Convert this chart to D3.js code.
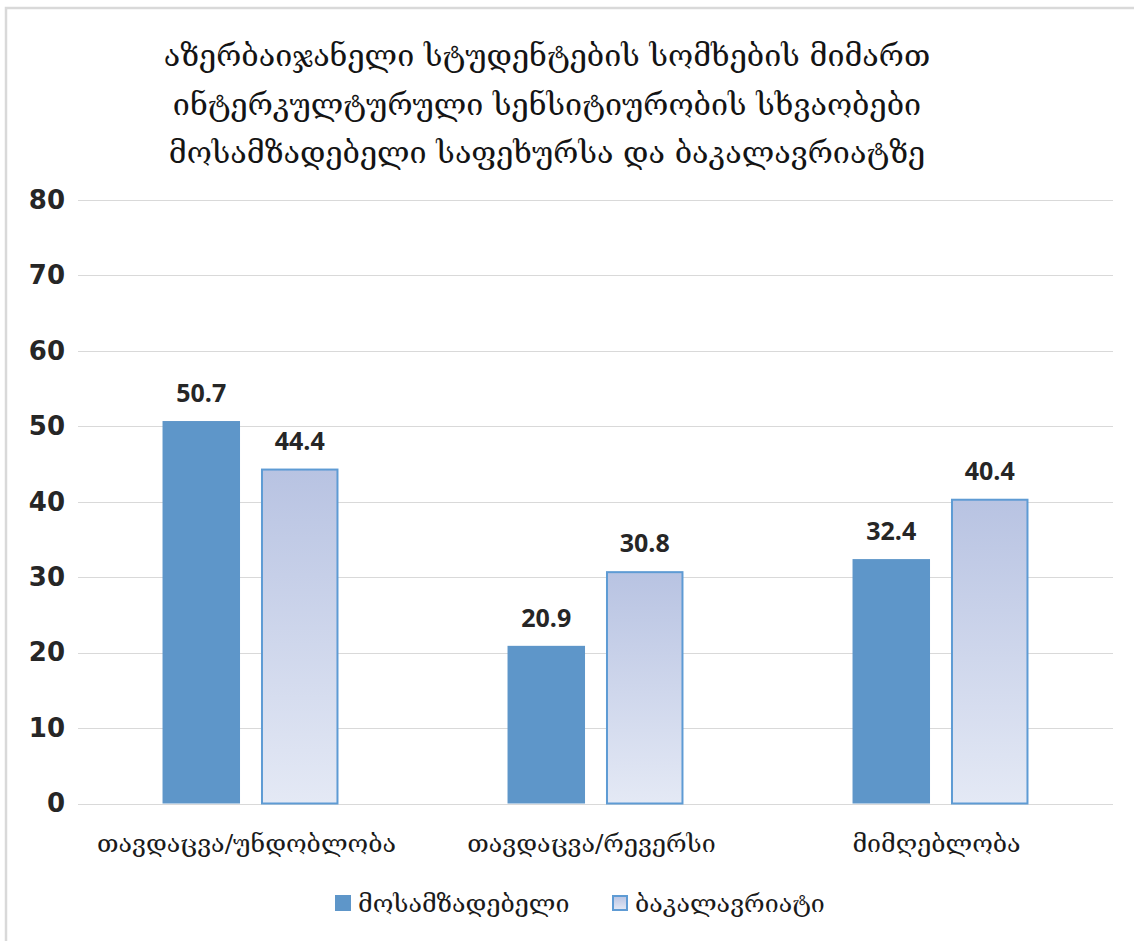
<!DOCTYPE html>
<html>
<head>
<meta charset="utf-8">
<script src="https://cdn.jsdelivr.net/npm/d3@7"></script>
<style>
  html, body { margin: 0; padding: 0; background: #fff; }
  svg { display: block; }
</style>
</head>
<body>
<svg id="chart" width="1134" height="941"></svg>
<script>
const titleLines = [
  "აზერბაიჯანელი სტუდენტების სომხების მიმართ",
  "ინტერკულტურული სენსიტიურობის სხვაობები",
  "მოსამზადებელი საფეხურსა და ბაკალავრიატზე"
];
const categories = ["თავდაცვა/უნდობლობა", "თავდაცვა/რევერსი", "მიმღებლობა"];
const seriesNames = ["მოსამზადებელი", "ბაკალავრიატი"];
const prepValues = [50.7, 20.9, 32.4];
const bachValues = [44.4, 30.8, 40.4];
const yTicks = [0, 10, 20, 30, 40, 50, 60, 70, 80];

const geoFont = "'DejaVu Serif', 'DejaVu Sans', serif";
const numFont = "'DejaVu Sans', Verdana, sans-serif";
const lblFont = "'Open Sans', 'Liberation Sans', sans-serif";

const svg = d3.select("#chart");

// outer frame
svg.append("rect").attr("x", 6).attr("y", 8).attr("width", 1200).attr("height", 1000)
  .attr("fill", "none").attr("stroke", "#d9d9d9").attr("stroke-width", 2.5);

const plot = { left: 78, right: 1113, top: 200, bottom: 803.5 };

const x0 = d3.scaleBand().domain(categories).range([plot.left, plot.right])
  .paddingInner(0.49).paddingOuter(0.245);
const x1 = d3.scaleBand().domain(seriesNames).range([0, x0.bandwidth()]).paddingInner(0.213);
const y = d3.scaleLinear().domain([0, 80]).range([plot.bottom, plot.top]);

// gradient for series 2
const defs = svg.append("defs");
const grad = defs.append("linearGradient").attr("id", "bachGrad")
  .attr("x1", 0).attr("y1", 0).attr("x2", 0).attr("y2", 1);
grad.append("stop").attr("offset", "0%").attr("stop-color", "#b8c3e2");
grad.append("stop").attr("offset", "100%").attr("stop-color", "#e4e9f5");

// gridlines
svg.append("g").selectAll("line").data(yTicks).join("line")
  .attr("x1", plot.left).attr("x2", plot.right)
  .attr("y1", d => Math.round(y(d)) + 0.5).attr("y2", d => Math.round(y(d)) + 0.5)
  .attr("stroke", "#d9d9d9").attr("stroke-width", 1.2);

// y axis labels
const yAxis = d3.axisLeft(y).tickValues(yTicks).tickSize(0).tickPadding(0);
const yg = svg.append("g").attr("transform", `translate(65,0)`).call(yAxis);
yg.select(".domain").remove();
yg.selectAll("text").attr("font-family", numFont).attr("font-weight", "bold")
  .attr("font-size", 26).attr("fill", "#262626");

const rows = categories.map((c, i) => ({ cat: c, vals: [prepValues[i], bachValues[i]] }));

const groups = svg.append("g").selectAll("g").data(rows).join("g")
  .attr("transform", d => `translate(${x0(d.cat)},0)`);

groups.selectAll("rect").data(d => d.vals.map((v, j) => ({ s: seriesNames[j], v, j })))
  .join("rect")
  .attr("x", d => x1(d.s) + (d.j === 1 ? 1 : 0))
  .attr("width", d => x1.bandwidth() - (d.j === 1 ? 2 : 0))
  .attr("y", d => y(d.v) + (d.j === 1 ? 1 : 0))
  .attr("height", d => plot.bottom - y(d.v) - (d.j === 1 ? 1 : 0))
  .attr("fill", d => d.j === 0 ? "#5e96c9" : "url(#bachGrad)")
  .attr("stroke", d => d.j === 0 ? "none" : "#5e9bd4")
  .attr("stroke-width", d => d.j === 0 ? 0 : 2);

groups.selectAll("text.val").data(d => d.vals.map((v, j) => ({ s: seriesNames[j], v, j })))
  .join("text").attr("class", "val")
  .attr("x", d => x1(d.s) + x1.bandwidth() / 2)
  .attr("y", d => y(d.v) - 19)
  .attr("text-anchor", "middle")
  .attr("font-family", lblFont).attr("font-weight", "bold").attr("font-size", 25)
  .attr("fill", "#262626")
  .text(d => d.v.toFixed(1));

// category labels
const xAxis = d3.axisBottom(x0).tickSize(0).tickPadding(0);
const xg = svg.append("g").attr("transform", `translate(-4,852)`).call(xAxis);
xg.select(".domain").remove();
xg.selectAll("text").attr("dy", 0).attr("font-family", geoFont).attr("font-size", 25).attr("fill", "#1a1a1a");

// title
svg.append("g").selectAll("text").data(titleLines).join("text")
  .attr("x", 547).attr("y", (d, i) => 66 + i * 48.5)
  .attr("text-anchor", "middle")
  .attr("font-family", geoFont).attr("font-size", 30.5).attr("fill", "#141414")
  .text(d => d);

// legend
const legendX = [335, 612];
const legend = svg.append("g").selectAll("g").data(seriesNames).join("g");
legend.append("rect")
  .attr("x", (d, i) => legendX[i] + (i === 1 ? 1 : 0)).attr("y", (d, i) => 895 + (i === 1 ? 1 : 0))
  .attr("width", (d, i) => i === 1 ? 14 : 16).attr("height", (d, i) => i === 1 ? 14 : 16)
  .attr("fill", (d, i) => i === 0 ? "#5e96c9" : "url(#bachGrad)")
  .attr("stroke", (d, i) => i === 0 ? "none" : "#5e9bd4").attr("stroke-width", 2);
legend.append("text")
  .attr("x", (d, i) => legendX[i] + 23).attr("y", 912)
  .attr("font-family", geoFont).attr("font-size", 25).attr("fill", "#1a1a1a")
  .text(d => d);
</script>
</body>
</html>
